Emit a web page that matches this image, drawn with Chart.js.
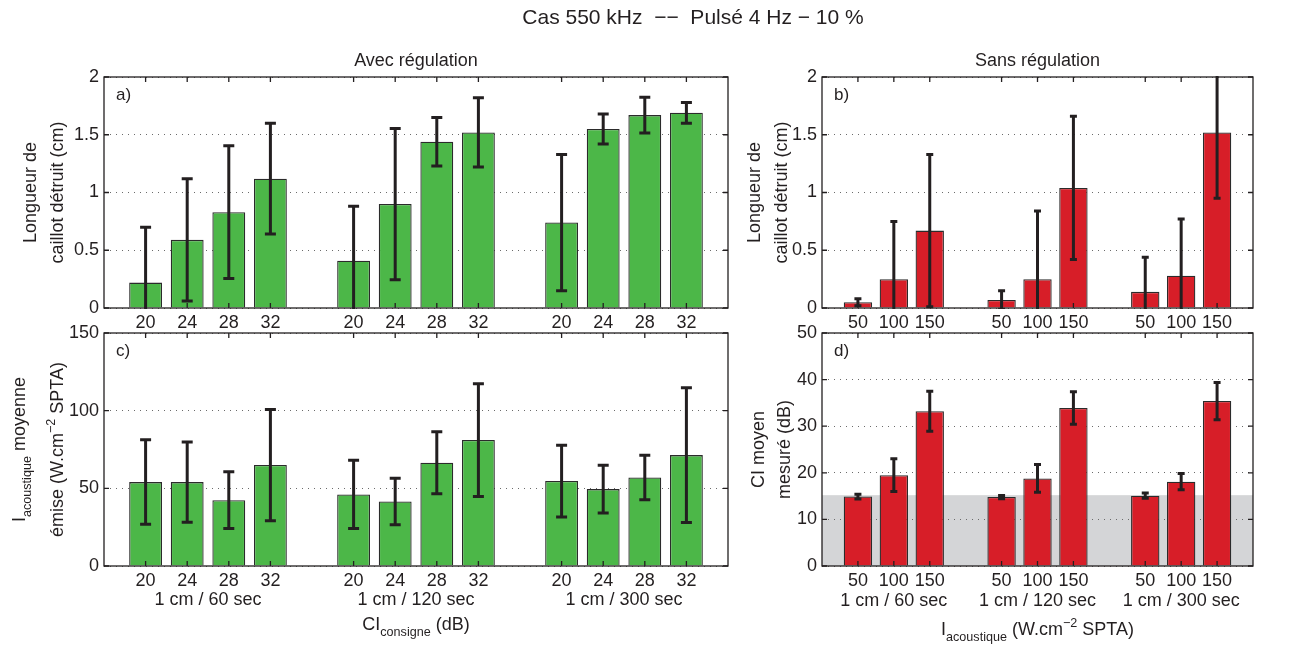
<!DOCTYPE html>
<html>
<head>
<meta charset="utf-8">
<script src="https://cdn.jsdelivr.net/npm/chart.js@4.4.1/dist/chart.umd.min.js"></script>
<style>
  body { margin: 0; background: #fff; }
  #wrap { position: relative; width: 1294px; height: 648px; }
  #wrap canvas { position: absolute; left: 0; top: 0; }
</style>
</head>
<body>
<div id="wrap">
  <canvas id="panelA" width="1294" height="648"></canvas>
  <canvas id="panelB" width="1294" height="648"></canvas>
  <canvas id="panelC" width="1294" height="648"></canvas>
  <canvas id="panelD" width="1294" height="648"></canvas>
</div>
<script>
// groups and categories
const groups = ['1 cm / 60 sec', '1 cm / 120 sec', '1 cm / 300 sec'];
const consigne = [20, 24, 28, 32];      // CI consigne (dB)
const intensite = [50, 100, 150];       // I acoustique (W.cm-2 SPTA)

// a) longueur de caillot detruit, avec regulation (cm)
const longAvecMean = [0.22, 0.59, 0.83, 1.12, 0.41, 0.90, 1.44, 1.52, 0.74, 1.55, 1.67, 1.69];
const longAvecSd   = [0.48, 0.53, 0.575, 0.48, 0.47, 0.655, 0.21, 0.30, 0.59, 0.13, 0.155, 0.09];

// b) longueur de caillot detruit, sans regulation (cm)
const longSansMean = [0.05, 0.25, 0.67, 0.07, 0.25, 1.04, 0.14, 0.28, 1.52];
const longSansSd   = [0.03, 0.50, 0.66, 0.08, 0.59, 0.62, 0.30, 0.49, 0.57];

// c) intensite acoustique moyenne emise (W.cm-2 SPTA)
const intensAvecMean = [54.0, 54.0, 42.4, 65.0, 46.1, 41.5, 66.5, 81.1, 54.7, 49.5, 57.0, 71.4];
const intensAvecSd   = [27.2, 25.8, 18.3, 35.8, 22.0, 15.0, 20.0, 36.3, 23.1, 15.4, 14.3, 43.4];

// d) CI moyen mesure (dB)
const ciSansMean = [14.9, 19.5, 33.2, 14.8, 18.8, 33.9, 15.1, 18.1, 35.4];
const ciSansSd   = [0.5, 3.5, 4.3, 0.35, 3.0, 3.5, 0.55, 1.75, 4.0];
const ciSeuil = 15.2;   // grey zone

const FONT = "'Liberation Sans', Arial, Helvetica, sans-serif";
const INK = '#231f20';
const GREEN = '#4cb748';
const RED = '#d71e28';

// slots with an empty one before, between and after each group
function withGaps(cats) {
  const out = [''];
  groups.forEach(() => out.push(...cats.map(String), ''));
  return out;
}
function spread(vals, per) {
  const out = [null];
  groups.forEach((g, k) => out.push(...vals.slice(k * per, (k + 1) * per), null));
  return out;
}

// draw text with sub / sup parts, centred on x
function drawRich(ctx, segs, x, y, size) {
  const parts = segs.map(([t, k]) => ({ t, k: k || '', f: k ? size * 0.7 : size }));
  let w = 0;
  parts.forEach(p => { ctx.font = `${p.f}px ${FONT}`; p.w = ctx.measureText(p.t).width; w += p.w; });
  let cx = x - w / 2;
  ctx.textAlign = 'left';
  ctx.textBaseline = 'alphabetic';
  parts.forEach(p => {
    ctx.font = `${p.f}px ${FONT}`;
    const dy = p.k === 'sub' ? size * 0.35 : p.k === 'sup' ? -size * 0.45 : 0;
    ctx.fillText(p.t, cx, y + dy);
    cx += p.w;
  });
}

const errorBars = {
  id: 'errorBars',
  afterDatasetsDraw(chart, args, opts) {
    const { ctx, chartArea: a } = chart;
    const y = chart.scales.y;
    ctx.save();
    ctx.beginPath();
    ctx.rect(a.left, a.top - 1, a.width, a.height + 2);
    ctx.clip();
    ctx.strokeStyle = INK;
    ctx.lineWidth = 3;
    chart.data.datasets.forEach((ds, di) => {
      const meta = chart.getDatasetMeta(di);
      ds.data.forEach((v, i) => {
        if (v == null) return;
        const e = ds.errors[i];
        const x = meta.data[i].x;
        const yt = y.getPixelForValue(v + e), yb = y.getPixelForValue(v - e);
        ctx.beginPath();
        ctx.moveTo(x, yt); ctx.lineTo(x, yb);
        ctx.moveTo(x - opts.cap, yt); ctx.lineTo(x + opts.cap, yt);
        ctx.moveTo(x - opts.cap, yb); ctx.lineTo(x + opts.cap, yb);
        ctx.stroke();
      });
    });
    ctx.restore();
  }
};

const greyZone = {
  id: 'greyZone',
  beforeDraw(chart, args, opts) {
    if (opts.value == null) return;
    const { ctx, chartArea: a } = chart;
    const py = chart.scales.y.getPixelForValue(opts.value);
    ctx.save();
    ctx.fillStyle = '#d4d5d7';
    ctx.fillRect(a.left, py, a.width, a.bottom - py);
    ctx.restore();
  }
};

// box + inward ticks, matlab style, and all the texts of the panel
const frame = {
  id: 'frame',
  afterDraw(chart, args, opts) {
    const { ctx, chartArea: a, scales: { x, y } } = chart;
    ctx.save();
    ctx.strokeStyle = INK;
    ctx.lineWidth = 1.3;
    ctx.strokeRect(a.left, a.top, a.width, a.height);
    ctx.beginPath();
    x.ticks.forEach((t, i) => {
      if (!x.getLabelForValue(i)) return;
      const px = x.getPixelForTick(i);
      ctx.moveTo(px, a.bottom); ctx.lineTo(px, a.bottom - 5);
      ctx.moveTo(px, a.top); ctx.lineTo(px, a.top + 5);
    });
    y.ticks.forEach(t => {
      const py = y.getPixelForValue(t.value);
      ctx.moveTo(a.left, py); ctx.lineTo(a.left + 5, py);
      ctx.moveTo(a.right, py); ctx.lineTo(a.right - 5, py);
    });
    ctx.stroke();

    ctx.fillStyle = INK;
    ctx.font = `17px ${FONT}`;
    ctx.textAlign = 'left';
    ctx.textBaseline = 'alphabetic';
    ctx.fillText(opts.letter, a.left + 12, a.top + 23);

    const yc = (a.top + a.bottom) / 2;
    opts.ylines.forEach(l => {
      ctx.save();
      ctx.translate(l.x, yc);
      ctx.rotate(-Math.PI / 2);
      drawRich(ctx, l.segs, 0, 0, 18);
      ctx.restore();
    });

    if (opts.header) {
      ctx.font = `18px ${FONT}`;
      ctx.textAlign = 'center';
      ctx.fillText(opts.header, (a.left + a.right) / 2, 66);
    }
    if (opts.groupY) {
      const per = (x.ticks.length - 1) / groups.length - 1;
      ctx.font = `18px ${FONT}`;
      ctx.textAlign = 'center';
      groups.forEach((g, k) => {
        const i0 = 1 + k * (per + 1), i1 = i0 + per - 1;
        const cx = (x.getPixelForValue(i0) + x.getPixelForValue(i1)) / 2;
        ctx.fillText(g, cx, opts.groupY);
      });
    }
    if (opts.xlabel) {
      drawRich(ctx, opts.xlabel.segs, (a.left + a.right) / 2, opts.xlabel.y, 18);
    }
    if (opts.title) {
      ctx.font = `21px ${FONT}`;
      ctx.textAlign = 'center';
      ctx.fillText(opts.title, 693, 24);
    }
    ctx.restore();
  }
};

function makePanel(id, area, labels, means, sds, color, yMax, yStep, cap, textOpts, seuil) {
  const Y_W = 40, X_H = 30;
  return new Chart(document.getElementById(id), {
    type: 'bar',
    data: {
      labels: labels,
      datasets: [{
        data: means,
        errors: sds,
        backgroundColor: color,
        borderColor: '#2b2b2b',
        borderWidth: 1.3,
        categoryPercentage: 0.79,
        barPercentage: 1
      }]
    },
    options: {
      responsive: false,
      animation: false,
      events: [],
      layout: {
        padding: {
          left: area.left - Y_W,
          top: area.top,
          right: 1294 - area.right,
          bottom: 648 - area.bottom - X_H
        }
      },
      plugins: {
        legend: { display: false },
        tooltip: { enabled: false },
        errorBars: { cap: cap },
        greyZone: { value: seuil },
        frame: textOpts
      },
      scales: {
        x: {
          offset: false,
          afterFit: s => { s.height = X_H; },
          grid: { display: false, drawTicks: false },
          border: { display: false },
          ticks: { autoSkip: false, maxRotation: 0, padding: 4, color: INK, font: { family: FONT, size: 18 } }
        },
        y: {
          min: 0,
          max: yMax,
          afterFit: s => { s.width = Y_W; },
          grid: { color: '#6b6b6b', lineWidth: 1, drawTicks: false },
          border: { display: false, dash: [1, 5] },
          ticks: { stepSize: yStep, padding: 5, color: INK, font: { family: FONT, size: 18 }, callback: v => String(v) }
        }
      }
    },
    plugins: [greyZone, errorBars, frame]
  });
}

makePanel('panelA', { left: 104, top: 77, right: 728, bottom: 308 },
  withGaps(consigne), spread(longAvecMean, 4), spread(longAvecSd, 4), GREEN, 2, 0.5, 5.5, {
    letter: 'a)',
    header: 'Avec régulation',
    title: 'Cas 550 kHz  −−  Pulsé 4 Hz − 10 %',
    ylines: [
      { x: 36, segs: [['Longueur de']] },
      { x: 63, segs: [['caillot détruit (cm)']] }
    ]
  });

makePanel('panelB', { left: 822, top: 77, right: 1253, bottom: 308 },
  withGaps(intensite), spread(longSansMean, 3), spread(longSansSd, 3), RED, 2, 0.5, 3.5, {
    letter: 'b)',
    header: 'Sans régulation',
    ylines: [
      { x: 760, segs: [['Longueur de']] },
      { x: 787, segs: [['caillot détruit (cm)']] }
    ]
  });

makePanel('panelC', { left: 104, top: 333, right: 728, bottom: 566 },
  withGaps(consigne), spread(intensAvecMean, 4), spread(intensAvecSd, 4), GREEN, 150, 50, 5.5, {
    letter: 'c)',
    groupY: 605,
    xlabel: { y: 630, segs: [['CI'], ['consigne', 'sub'], [' (dB)']] },
    ylines: [
      { x: 25, segs: [['I'], ['acoustique', 'sub'], [' moyenne']] },
      { x: 63, segs: [['émise (W.cm'], ['−2', 'sup'], [' SPTA)']] }
    ]
  });

makePanel('panelD', { left: 822, top: 333, right: 1253, bottom: 566 },
  withGaps(intensite), spread(ciSansMean, 3), spread(ciSansSd, 3), RED, 50, 10, 3.5, {
    letter: 'd)',
    groupY: 606,
    xlabel: { y: 635, segs: [['I'], ['acoustique', 'sub'], [' (W.cm'], ['−2', 'sup'], [' SPTA)']] },
    ylines: [
      { x: 764, segs: [['CI moyen']] },
      { x: 790, segs: [['mesuré (dB)']] }
    ]
  }, ciSeuil);
</script>
</body>
</html>
